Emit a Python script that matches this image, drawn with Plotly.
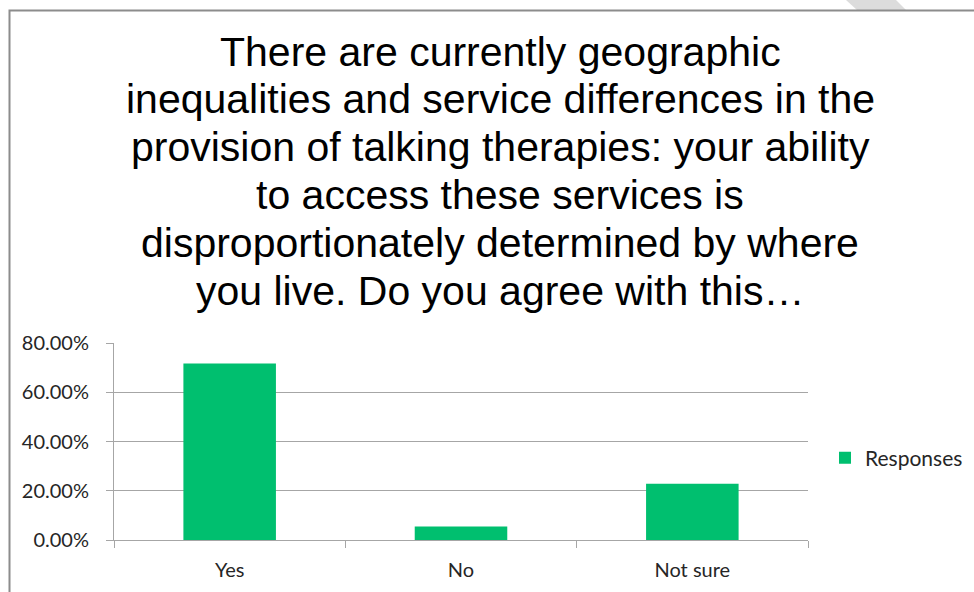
import plotly.graph_objects as go

categories = ["Yes", "No", "Not sure"]
responses = [0.7164, 0.0547, 0.2289]
series_name = "Responses"
title_lines = [
    "There are currently geographic",
    "inequalities and service differences in the",
    "provision of talking therapies: your ability",
    "to access these services is",
    "disproportionately determined by where",
    "you live. Do you agree with this\u2026",
]

W, H = 974, 592
L, R, T, B = 114, 808, 343, 540  # plot area pixel box

def px_x(x):
    return (x - L) / (R - L)

def px_y(y):
    return (B - y) / (B - T)

GREEN = "#00BF6F"
GRID = "#a6a6a6"
LABEL_FONT = "Lato, 'Open Sans', sans-serif"

fig = go.Figure()
fig.add_trace(go.Bar(
    x=categories, y=responses, name=series_name,
    marker=dict(color=GREEN, line=dict(width=0)),
    width=0.4, showlegend=True,
))

annotations = []
first_baseline = 66
spacing = 47.8
fs = 41
for i, line in enumerate(title_lines):
    baseline = first_baseline + i * spacing
    center = baseline - 0.35 * fs
    annotations.append(dict(
        text=line, xref="paper", yref="paper",
        x=px_x(500), y=px_y(center), xanchor="center", yanchor="middle",
        showarrow=False,
        font=dict(family="'Liberation Sans', Arial, sans-serif", size=fs, color="#000000"),
    ))

shapes = [
    # faint watermark fragment at top right
    dict(type="path", xref="paper", yref="paper",
         path=f"M {px_x(846)} {px_y(0)} L {px_x(896)} {px_y(0)} L {px_x(906)} {px_y(10)} L {px_x(857)} {px_y(10)} Z",
         fillcolor="#dcdcdc", line=dict(width=0), layer="below"),
    # chart border (left and top)
    dict(type="path", xref="paper", yref="paper",
         path=f"M {px_x(9.5)} {px_y(600)} L {px_x(9.5)} {px_y(10.5)} L {px_x(980)} {px_y(10.5)}",
         line=dict(color="#8c8c8c", width=2)),
]

fig.update_layout(
    width=W, height=H, autosize=False,
    margin=dict(l=L, r=W - R, t=T, b=H - B, pad=0, autoexpand=False),
    paper_bgcolor="white", plot_bgcolor="white",
    annotations=annotations, shapes=shapes,
    bargap=0.6,
    legend=dict(
        x=px_x(825), y=px_y(458), xanchor="left", yanchor="middle",
        xref="paper", yref="paper",
        font=dict(family=LABEL_FONT, size=21, color="#262626"),
        bgcolor="rgba(0,0,0,0)", itemclick=False,
    ),
    xaxis=dict(
        type="category", tickson="boundaries", ticks="outside", ticklen=7,
        tickcolor=GRID, showline=True, linecolor=GRID, linewidth=1,
        showgrid=False, tickfont=dict(family=LABEL_FONT, size=20, color="#262626"),
        ticklabelstandoff=12,
    ),
    yaxis=dict(
        range=[0, 0.8], dtick=0.2, tick0=0, tickformat=".2%",
        ticks="outside", ticklen=7, tickcolor=GRID,
        showline=True, linecolor=GRID, linewidth=1,
        showgrid=True, gridcolor=GRID, gridwidth=1, zeroline=False,
        tickfont=dict(family=LABEL_FONT, size=20, color="#262626"),
        ticklabelstandoff=13,
    ),
)

fig.write_html("out.html")
